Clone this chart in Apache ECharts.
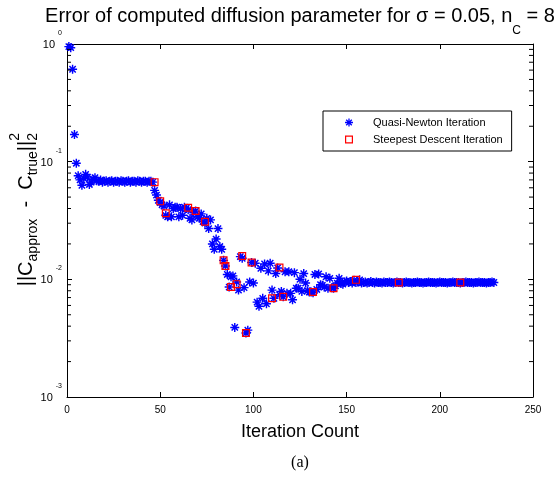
<!DOCTYPE html>
<html>
<head>
<meta charset="utf-8">
<script src="https://cdn.jsdelivr.net/npm/echarts@6/dist/echarts.min.js"></script>
<style>
  html, body { margin: 0; padding: 0; background: #fff; }
  #chart { width: 558px; height: 485px; }
</style>
</head>
<body>
<div id="chart"></div>
<script>
// Quasi-Newton error, one value per iteration (iteration = index + 1)
const quasiNewtonError = [
  0.95, 0.93, 0.61, 0.17, 0.097, 0.076, 0.070, 0.063, 0.072, 0.078,
  0.074, 0.064, 0.067, 0.071, 0.073, 0.069, 0.068, 0.070, 0.067, 0.068,
  0.069, 0.067, 0.068, 0.069, 0.067, 0.068, 0.068, 0.067, 0.069, 0.068,
  0.067, 0.068, 0.069, 0.067, 0.068, 0.068, 0.067, 0.069, 0.068, 0.067,
  0.068, 0.068, 0.067, 0.068, 0.068, 0.067, 0.057, 0.052, 0.047, 0.045,
  0.043, 0.042, 0.035, 0.034, 0.043, 0.034, 0.040, 0.041, 0.041, 0.034,
  0.040, 0.035, 0.041, 0.040, 0.039, 0.033, 0.032, 0.037, 0.038, 0.034,
  0.033, 0.036, 0.031, 0.030, 0.033, 0.027, 0.032, 0.020, 0.018, 0.022,
  0.027, 0.019, 0.018, 0.0145, 0.013, 0.011, 0.0086, 0.0105, 0.0107, 0.0039,
  0.0095, 0.0081, 0.0156, 0.0151, 0.0085, 0.0035, 0.0037, 0.0095, 0.0139, 0.0093,
  0.0137, 0.0064, 0.0059, 0.0124, 0.0069, 0.0135, 0.0062, 0.0118, 0.0137, 0.0081,
  0.0069, 0.0112, 0.0125, 0.0074, 0.0079, 0.0071, 0.0116, 0.0076, 0.0116, 0.0076,
  0.0067, 0.0114, 0.0084, 0.0084, 0.0100, 0.0079, 0.0112, 0.0093, 0.0080, 0.0078,
  0.0078, 0.0077, 0.0110, 0.0082, 0.0111, 0.0090, 0.0089, 0.0086, 0.0105, 0.0084,
  0.0102, 0.0085, 0.0084, 0.0088, 0.0093, 0.0102, 0.0092, 0.0091, 0.0095, 0.0097,
  0.0094, 0.0096, 0.0093, 0.0098, 0.0094, 0.0095, 0.0099, 0.0093, 0.0094, 0.0095,
  0.0093, 0.0094, 0.0096, 0.0094, 0.0093, 0.0095, 0.0094, 0.0094, 0.0093, 0.0095,
  0.0094, 0.0094, 0.0095, 0.0094, 0.0093, 0.0094, 0.0095, 0.0094, 0.0094, 0.0093,
  0.0094, 0.0095, 0.0094, 0.0094, 0.0093, 0.0094, 0.0094, 0.0095, 0.0094, 0.0094,
  0.0093, 0.0094, 0.0094, 0.0095, 0.0094, 0.0094, 0.0094, 0.0093, 0.0094, 0.0095,
  0.0094, 0.0094, 0.0094, 0.0093, 0.0094, 0.0094, 0.0095, 0.0094, 0.0094, 0.0094,
  0.0093, 0.0094, 0.0094, 0.0095, 0.0094, 0.0094, 0.0094, 0.0093, 0.0094, 0.0094,
  0.0095, 0.0094, 0.0094, 0.0094, 0.0093, 0.0094, 0.0094, 0.0095, 0.0094
];

// Steepest descent error at the iterations where it was evaluated
const steepestIterations = [47, 50, 53, 65, 69, 74, 84, 85, 88, 91, 94, 96, 99, 110, 114, 116, 132, 143, 155, 178, 211];
const steepestError = [0.067, 0.046, 0.0364, 0.0406, 0.0381, 0.0309, 0.0145, 0.0130, 0.0086, 0.0091,
                       0.0158, 0.0035, 0.0139, 0.0069, 0.0126, 0.0071, 0.0078, 0.0084, 0.0099, 0.0094, 0.0094];

// Axis ticks
const xTicks = [0, 50, 100, 150, 200, 250];
const yDecades = [1e-3, 1e-2, 1e-1, 1];
const yMinorTicks = [
  0.002, 0.003, 0.004, 0.005, 0.006, 0.007, 0.008, 0.009,
  0.02, 0.03, 0.04, 0.05, 0.06, 0.07, 0.08, 0.09,
  0.2, 0.3, 0.4, 0.5, 0.6, 0.7, 0.8, 0.9
];

const seriesNames = ['Quasi-Newton Iteration', 'Steepest Descent Iteration'];

// MATLAB-style asterisk marker (plus and cross combined)
const asterisk = 'path://M4.2 0L5.8 0L5.8 10L4.2 10Z' +
  'M0 4.2L10 4.2L10 5.8L0 5.8Z' +
  'M0.93 2.07L2.07 0.93L9.07 7.93L7.93 9.07Z' +
  'M7.93 0.93L9.07 2.07L2.07 9.07L0.93 7.93Z';
// hollow square outline (outer square with an inner hole)
const hollowSquare = 'path://M0 0L10 0L10 10L0 10Z M1.5 1.5L1.5 8.5L8.5 8.5L8.5 1.5Z';

const FONT = '"Liberation Sans", Arial, Helvetica, sans-serif';

const chart = echarts.init(document.getElementById('chart'), null, { renderer: 'canvas' });

const grid = { left: 67, top: 44, width: 466, height: 353 };

const axisCommon = {
  axisLine: { show: true, onZero: false, lineStyle: { color: '#000', width: 1 } },
  axisTick: { show: true, inside: true, length: 5, lineStyle: { color: '#000', width: 1 } },
  splitLine: { show: false }
};

function yLabel(v) {
  const e = Math.round(Math.log10(v));
  return '{b|10}{e|' + e + '}';
}

// short inward tick marks drawn as tiny bars at the box edges
function minorTickSeries(xValue, offset) {
  return {
    type: 'scatter',
    silent: true,
    clip: false,
    symbol: 'rect',
    symbolSize: [4, 1],
    symbolOffset: [offset, 0],
    itemStyle: { color: '#000', opacity: 1 },
    data: yMinorTicks.map(v => [xValue, v]),
    z: 4
  };
}

const option = {
  backgroundColor: '#fff',
  animation: false,
  grid: grid,
  legend: {
    orient: 'vertical',
    left: 323,
    top: 111,
    padding: [6, 9, 6, 22],
    itemGap: 6,
    itemWidth: 38,
    itemHeight: 8,
    borderColor: '#000',
    borderWidth: 1,
    backgroundColor: '#fff',
    textStyle: { color: '#000', fontSize: 11, fontFamily: FONT },
    data: [
      { name: seriesNames[0], icon: asterisk },
      { name: seriesNames[1], icon: hollowSquare }
    ]
  },
  xAxis: [
    Object.assign({
      type: 'value', min: xTicks[0], max: xTicks[xTicks.length - 1], interval: 50,
      position: 'bottom',
      axisLabel: { color: '#000', fontSize: 10, fontFamily: FONT, margin: 8 }
    }, axisCommon),
    Object.assign({
      type: 'value', min: xTicks[0], max: xTicks[xTicks.length - 1], interval: 50,
      position: 'top',
      axisLabel: { show: false }
    }, axisCommon)
  ],
  yAxis: [
    Object.assign({
      type: 'log', logBase: 10, min: yDecades[0], max: yDecades[yDecades.length - 1],
      position: 'left',
      axisLabel: {
        formatter: yLabel,
        margin: 5,
        rich: {
          b: { fontSize: 11, fontFamily: FONT, color: '#000', lineHeight: 12, padding: [10, 0, 8, 0] },
          e: { fontSize: 7, fontFamily: FONT, color: '#000', lineHeight: 8, padding: [0, 0, 22, 3] }
        }
      }
    }, axisCommon),
    Object.assign({
      type: 'log', logBase: 10, min: yDecades[0], max: yDecades[yDecades.length - 1],
      position: 'right',
      axisLabel: { show: false }
    }, axisCommon)
  ],
  series: [
    {
      name: seriesNames[0],
      type: 'scatter',
      symbol: asterisk,
      symbolSize: 9,
      itemStyle: { color: '#0000ff', opacity: 1 },
      data: quasiNewtonError.map((v, i) => [i + 1, v]),
      z: 2
    },
    {
      name: seriesNames[1],
      type: 'scatter',
      symbol: hollowSquare,
      symbolSize: 8,
      itemStyle: { color: '#ff0000', opacity: 1 },
      data: steepestIterations.map((it, i) => [it, steepestError[i]]),
      z: 3
    },
    minorTickSeries(xTicks[0], 2),
    minorTickSeries(xTicks[xTicks.length - 1], -2)
  ],
  graphic: [
    {
      type: 'text', x: 300, y: 12,
      style: {
        text: '{n|Error of computed diffusion parameter for σ = 0.05, n}{s|C}{n| = 8}',
        align: 'center', verticalAlign: 'top',
        rich: {
          n: { fontSize: 20, fontFamily: FONT, fill: '#000', lineHeight: 22, padding: [0, 0, 14, 0] },
          s: { fontSize: 12, fontFamily: FONT, fill: '#000', lineHeight: 13, padding: [19, 0, 4, 0] }
        }
      }
    },
    {
      type: 'text', x: 300, y: 432,
      style: { text: 'Iteration Count', font: '18px ' + FONT, fill: '#000', align: 'center', verticalAlign: 'middle' }
    },
    {
      type: 'text', x: 300, y: 463,
      style: { text: '(a)', font: '16px "Liberation Serif", "DejaVu Serif", serif', fill: '#000', align: 'center', verticalAlign: 'middle' }
    },
    {
      type: 'text', x: 20, y: 133, rotation: Math.PI / 2,
      style: {
        text: '{n|||C}{s|approx}{n|  -  C}{s|true}{n|||}{s|2}',
        align: 'right', verticalAlign: 'top',
        rich: {
          n: { fontSize: 20, fontFamily: FONT, fill: '#000', lineHeight: 20, padding: [0, 0, 8, 0] },
          s: { fontSize: 14, fontFamily: FONT, fill: '#000', lineHeight: 15, padding: [10, 0, 3, 0] }
        }
      }
    },
    {
      type: 'text', x: 8, y: 133, rotation: Math.PI / 2,
      style: { text: '2', font: '14px ' + FONT, fill: '#000', align: 'right', verticalAlign: 'top' }
    }
  ]
};

chart.setOption(option);
</script>
</body>
</html>
